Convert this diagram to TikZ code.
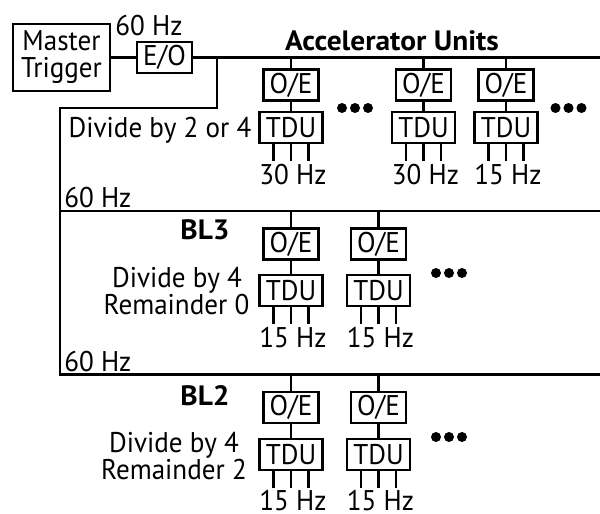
\documentclass[tikz,border=0pt]{standalone}
\usepackage{fontspec}
\setmainfont{PT Sans}[FakeStretch=0.95]
\newfontfamily\headfam{PT Sans}[FakeStretch=1.05]
\newcommand\lbl{\fontsize{28.5}{27}\selectfont}
\newcommand\lblb{\headfam\fontsize{28}{27}\selectfont\bfseries}
\begin{document}
\begin{tikzpicture}[x=1pt, y=-1pt, line width=2.6pt, line join=miter,
  box/.style={draw, line width=2.6pt, inner sep=0pt, font=\lbl},
  oebox/.style={box, minimum width=55pt, minimum height=31pt},
  tdubox/.style={box, minimum width=63pt, minimum height=31pt},
  lbl/.style={font=\lbl, inner sep=0pt},
  bold/.style={font=\lblb, inner sep=0pt}]
\useasboundingbox (0,0) rectangle (600,514);

% master trigger and electro-optical converter
\node[box, minimum width=97pt, minimum height=67pt, align=center] (mt) at (61.5,57.5) {Master\\Trigger};
\node[box, minimum width=55pt, minimum height=31pt] (eo) at (164.5,57.5) {E/O};
\node[lbl, anchor=base] (hzmain) at (149,35) {60 Hz};
\node[bold, anchor=base] (acc) at (392,50) {Accelerator Units};

% fibre buses
\coordinate (busAend) at (600,57.5);
\coordinate (brA) at (217,57.5);
\coordinate (brB) at (217,108);
\coordinate (brC) at (60,108);
\coordinate (leftB) at (60,211);
\coordinate (busBend) at (600,211);
\coordinate (leftC) at (60,374.5);
\coordinate (busCend) at (600,374.5);
\draw (mt.east) -- (eo.west);
\draw (eo.east) -- (busAend);
\draw (brA) -- (brB) -- (brC) -- (leftC) -- (busCend);
\draw (leftB) -- (busBend);

% receiver + timing distribution units
\foreach \n/\x/\bus/\oe/\td/\lb/\f in {
  a1/291/57.5/85/127.5/184/30 Hz,
  a2/423.5/57.5/85/127.5/184/30 Hz,
  a3/506/57.5/85/127.5/184/15 Hz,
  b1/291/211/244/290.5/347/15 Hz,
  b2/378.5/211/244/290.5/347/15 Hz,
  c1/291/374.5/407.5/454.5/510/15 Hz,
  c2/378.5/374.5/407.5/454.5/510/15 Hz} {
  \coordinate (tap\n) at (\x,\bus);
  \node[oebox] (oe\n) at (\x,\oe) {O/E};
  \node[tdubox] (tdu\n) at (\x,\td) {TDU};
  \draw (tap\n) -- (oe\n);
  \draw (oe\n) -- (tdu\n);
  \foreach \dx in {-17.5,0,17.5}
    \draw ([xshift=\dx pt]tdu\n.south) -- ++(0,17);
  \node[lbl, anchor=base] (f\n) at (\x+2,\lb) {\f};
}

% ellipses
\foreach \cx/\cy in {355/108, 568.5/108, 449/273, 449/437}
  \foreach \d in {-13,0,13}
    \fill (\cx+\d,\cy) circle (5pt);

% group labels
\node[lbl, anchor=base] (divA) at (160,137) {Divide by 2 or 4};
\node[lbl, anchor=base west] (hzB) at (63,207) {60 Hz};
\node[bold, anchor=base] (bl3) at (205,239) {BL3};
\node[lbl, anchor=base] (divB) at (177,287) {Divide by 4};
\node[lbl, anchor=base] (remB) at (176.5,314) {Remainder 0};
\node[lbl, anchor=base west] (hzC) at (63,371) {60 Hz};
\node[bold, anchor=base] (bl2) at (205,405) {BL2};
\node[lbl, anchor=base] (divC) at (174,452) {Divide by 4};
\node[lbl, anchor=base] (remC) at (174,479) {Remainder 2};
\end{tikzpicture}
\end{document}
